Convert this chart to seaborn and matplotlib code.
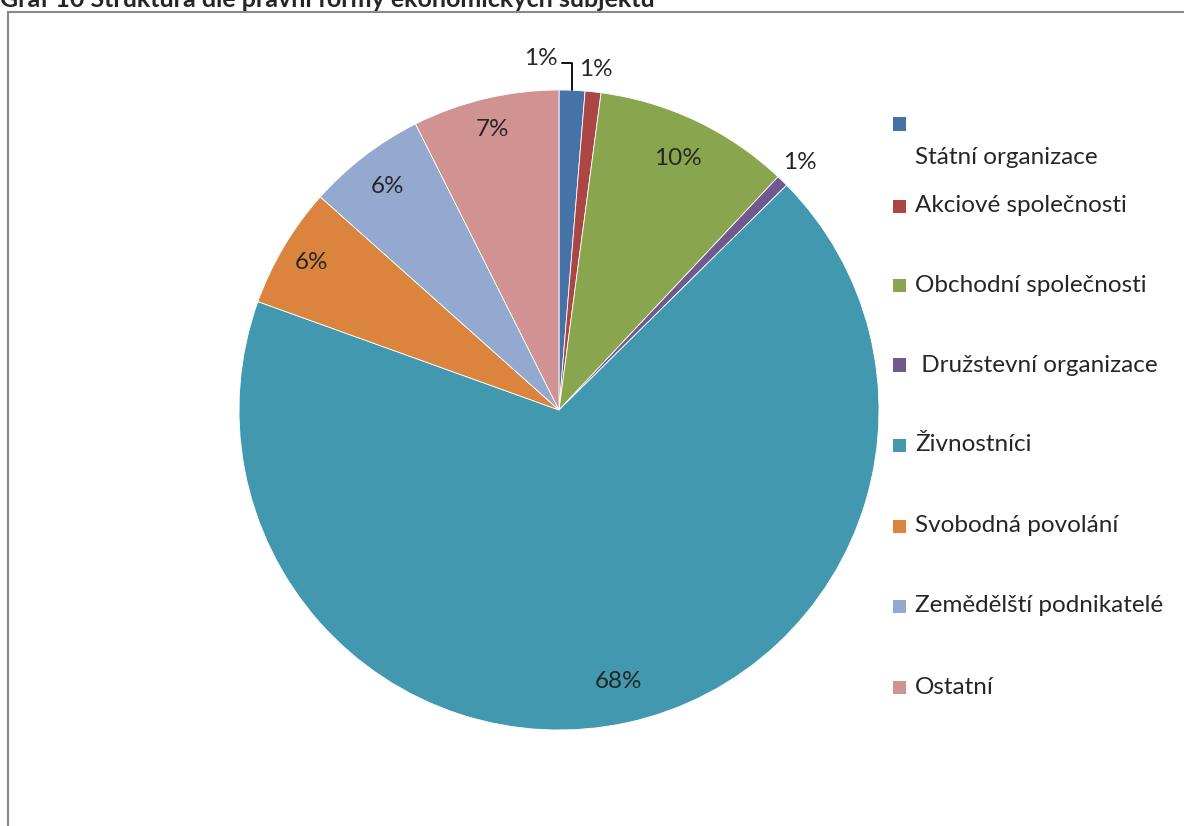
#!/usr/bin/env python

import numpy as np
import matplotlib
matplotlib.use('Agg')
import matplotlib.pyplot as plt
from matplotlib.patches import Rectangle
import seaborn as sns

# Share of economic subjects by legal form (%)
CATEGORIES = ['Státní organizace', 'Akciové společnosti', 'Obchodní společnosti',
              ' Družstevní organizace', 'Živnostníci', 'Svobodná povolání',
              'Zemědělští podnikatelé', 'Ostatní']
SHARES = [1.3, 0.8, 9.9, 0.6, 67.9, 6.1, 6.0, 7.4]
COLORS = ['#4572A7', '#AA4643', '#89A54E', '#71588F',
          '#4198AF', '#DB843D', '#93A9CF', '#D19392']
TITLE = 'Graf 10 Struktura dle právní formy ekonomických subjektů'

# radial distance of each percentage label (in pie radii)
LABEL_DIST = [1.09, 1.07, 0.87, 1.08, 0.87, 0.9, 0.88, 0.9]

W, H = 1184, 826
FS = 17.5


def main():
    sns.set_style('white')
    plt.rcParams['font.family'] = ['Lato', 'DejaVu Sans']

    fig = plt.figure(figsize=(W / 100, H / 100), dpi=100)
    cx, cy, r = 559, 410, 320
    ax = fig.add_axes([(cx - r) / W, (H - cy - r) / H, 2 * r / W, 2 * r / H])

    wedges, _ = ax.pie(SHARES, colors=COLORS, startangle=90, counterclock=False,
                       radius=1, wedgeprops=dict(edgecolor='white', linewidth=0.6))
    ax.set_xlim(-1, 1)
    ax.set_ylim(-1, 1)
    ax.set_aspect('equal')
    ax.axis('off')

    total = float(sum(SHARES))
    for i, (w, share) in enumerate(zip(wedges, SHARES)):
        ang = np.deg2rad((w.theta1 + w.theta2) / 2)
        d = LABEL_DIST[i]
        x, y = d * np.cos(ang), d * np.sin(ang)
        label = '%d%%' % int(share / total * 100 + 0.5)
        if i == 0:
            # leader line for the tiny first slice
            ex, ey = np.cos(ang), np.sin(ang)
            ytop = 1.084
            ax.plot([ex, ex, ex - 0.03], [ey, ytop, ytop], color='black',
                    lw=1.3, clip_on=False)
            ax.text(ex - 0.045, ytop + 0.015, label, ha='right', va='center',
                    fontsize=FS)
        else:
            ax.text(x, y, label, ha='center', va='center', fontsize=FS)

    # legend drawn by hand
    legend_y = [124, 206, 285, 365, 445, 526, 606, 687]
    for i, (name, col) in enumerate(zip(CATEGORIES, COLORS)):
        yy = legend_y[i]
        fig.patches.append(Rectangle((893 / W, 1 - (yy + 6.5) / H), 13 / W, 13 / H,
                                     transform=fig.transFigure, facecolor=col,
                                     edgecolor='none'))
        ty = 157 if i == 0 else yy
        fig.text(915 / W, 1 - ty / H, name, ha='left', va='center', fontsize=FS)

    # chart frame (clipped at right and bottom in the source)
    fig.patches.append(Rectangle((8 / W, -0.1), 1.2, 1 - 12 / H + 0.1,
                                 transform=fig.transFigure, facecolor='none',
                                 edgecolor='#888888', linewidth=1.5))

    fig.text(0.5 / W, 1 - 7 / H, TITLE, ha='left', va='baseline',
             fontsize=18, fontweight='bold')

    fig.savefig('out.png', dpi=100)


if __name__ == '__main__':
    main()
